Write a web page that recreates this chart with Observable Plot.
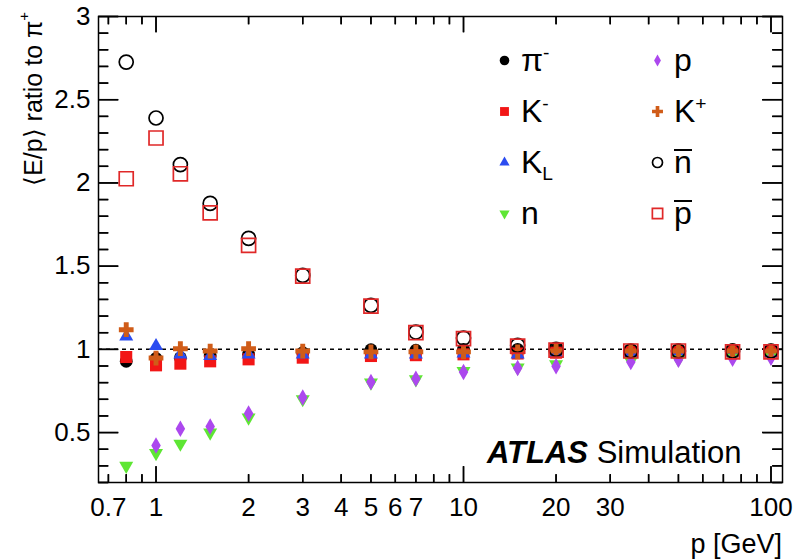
<!DOCTYPE html>
<html><head><meta charset="utf-8">
<script src="https://cdn.jsdelivr.net/npm/d3@7"></script>
<script src="https://cdn.jsdelivr.net/npm/@observablehq/plot@0.6"></script>
<style>
body{margin:0;background:#fff;}
#wrap{position:relative;width:796px;height:560px;font-family:"Liberation Sans",Arial,Helvetica,sans-serif;color:#000;}
#wrap svg{font-family:"Liberation Sans",Arial,Helvetica,sans-serif;font-size:26px;}
.ov{position:absolute;white-space:nowrap;line-height:1;}
.leg{font-size:32px;}
.ob{display:inline-block;border-top:2px solid #000;line-height:0.56em;padding-top:3px;}
sup,sub{font-size:0.6em;line-height:0;}
</style></head><body><div id="wrap"></div>
<script>
// momentum points [GeV]
const momenta = [0.8, 1, 1.2, 1.5, 2, 3, 5, 7, 10, 15, 20, 35, 50, 75, 100];
// <E/p> ratio to pi+
const piMinus = [0.928, 0.945, 0.950, 0.960, 0.970, 0.980, 0.998, 0.995, 1.000, 1.000, 1.000, 0.995, 0.998, 0.998, 0.995];
const kMinus  = [0.954, 0.904, 0.914, 0.928, 0.940, 0.950, 0.960, 0.965, 0.970, 0.975, 0.980, 0.985, 0.985, 0.985, 0.985];
const kLong   = [1.078, 1.020, 0.970, 0.960, 0.970, 0.970, 0.970, 0.970, 0.975, 0.970, 0.975, 0.980, 0.980, 0.980, 0.980];
const neutron = [0.300, 0.377, 0.433, 0.500, 0.590, 0.700, 0.800, 0.820, 0.870, 0.890, 0.910, 0.930, 0.940, 0.950, 0.955];
const proton  = [null, 0.423, 0.523, 0.537, 0.614, 0.710, 0.804, 0.824, 0.864, 0.888, 0.898, 0.924, 0.938, 0.944, 0.950];
const kPlus   = [1.118, 0.948, 1.004, 0.990, 1.004, 0.990, 0.985, 0.985, 0.985, 0.985, 0.990, 0.990, 0.990, 0.990, 0.990];
const nBar    = [2.726, 2.390, 2.110, 1.877, 1.667, 1.444, 1.264, 1.104, 1.068, 1.024, 1.000, 0.990, 0.990, 0.990, 0.990];
const pBar    = [2.025, 2.270, 2.055, 1.820, 1.625, 1.440, 1.260, 1.100, 1.064, 1.020, 0.995, 0.990, 0.990, 0.985, 0.985];

// axis ticks
const xTickLabels = [0.7, 1, 2, 3, 4, 5, 6, 7, 10, 20, 30, 100];
const xMajor = [1, 10, 100];
const xMinor = [0.7, 0.8, 0.9, 2, 3, 4, 5, 6, 7, 8, 9, 20, 30, 40, 50, 60, 70, 80, 90];
const yTickLabels = [0.5, 1, 1.5, 2, 2.5, 3];
const yMinor = [0.2, 0.3, 0.4, 0.6, 0.7, 0.8, 0.9, 1.1, 1.2, 1.3, 1.4, 1.6, 1.7, 1.8, 1.9, 2.1, 2.2, 2.3, 2.4, 2.6, 2.7, 2.8, 2.9];

const series = [
  {name: "piMinus", values: piMinus, symbol: "circle",   r: 6.4, lr: 4.8, color: "#000000", open: false, rotate: 0},
  {name: "kMinus",  values: kMinus,  symbol: "square",   r: 6.8, lr: 5.0, color: "#f21616", open: false, rotate: 0},
  {name: "kLong",   values: kLong,   symbol: "triangle", r: 5.2, lr: 3.8, color: "#2b4cf0", open: false, rotate: 0},
  {name: "neutron", values: neutron, symbol: "triangle", r: 5.2, lr: 3.8, color: "#5ee634", open: false, rotate: 180},
  {name: "proton",  values: proton,  symbol: "diamond",  r: 5.0, lr: 3.6, color: "#ac48ee", open: false, rotate: 0},
  {name: "kPlus",   values: kPlus,   symbol: "cross",    r: 6.2, lr: 4.6, color: "#d05c18", open: false, rotate: 0},
  {name: "nBar",    values: nBar,    symbol: "circle",   r: 7.0, lr: 5.0, color: "#000000", open: true,  rotate: 0},
  {name: "pBar",    values: pBar,    symbol: "square",   r: 7.9, lr: 5.8, color: "#e02828", open: true,  rotate: 0}
];

// legend layout: [series index, column, row, label html]
const legendItems = [
  [0, 0, 0, 'π<sup>-</sup>'],
  [1, 0, 1, 'K<sup>-</sup>'],
  [2, 0, 2, 'K<sub>L</sub>'],
  [3, 0, 3, 'n'],
  [4, 1, 0, 'p'],
  [5, 1, 1, 'K<sup>+</sup>'],
  [6, 1, 2, '<span class="ob">n</span>'],
  [7, 1, 3, '<span class="ob">p</span>']
];

const W = 796, H = 560;
const margin = {top: 16, right: 14, bottom: 78, left: 98};
const frameW = W - margin.left - margin.right, frameH = H - margin.top - margin.bottom;
const legCol = [406, 559], legRow = [44, 95, 146, 197];

function dotOpts(s, extra) {
  return Object.assign({
    symbol: s.symbol, r: s.r, rotate: s.rotate,
    fill: s.open ? "none" : s.color,
    stroke: s.open ? s.color : "none",
    strokeWidth: s.open ? 1.7 : 0
  }, extra);
}

// inward ROOT-style ticks: a short line symbol anchored on the frame edge
function tickSymbol(dx, dy) {
  return {draw(context) { context.moveTo(0, 0); context.lineTo(dx, dy); }};
}
function yTicks(data, side, len) {
  return [
    Plot.ruleY(data, side === "left"
      ? {y: d => d, stroke: "black", strokeWidth: 1.5, insetRight: frameW - len}
      : {y: d => d, stroke: "black", strokeWidth: 1.5, insetLeft: frameW - len}),
    Plot.dot(data, {y: d => d, frameAnchor: side, symbol: tickSymbol(side === "left" ? len : -len, 0),
      fill: "none", stroke: "black", strokeWidth: 1.5})
  ];
}
function xTicks(data, side, len) {
  return [
    Plot.ruleX(data, side === "bottom"
      ? {x: d => d, stroke: "black", strokeWidth: 1.5, insetTop: frameH - len}
      : {x: d => d, stroke: "black", strokeWidth: 1.5, insetBottom: frameH - len}),
    Plot.dot(data, {x: d => d, frameAnchor: side, symbol: tickSymbol(0, side === "bottom" ? -len : len),
      fill: "none", stroke: "black", strokeWidth: 1.5})
  ];
}

const marks = [];
marks.push(Plot.frame({stroke: "black", strokeWidth: 1.5}));
marks.push(yTicks(yTickLabels, "left", 20));
marks.push(yTicks(yMinor, "left", 10));
marks.push(yTicks(yTickLabels, "right", 20));
marks.push(yTicks(yMinor, "right", 10));
marks.push(xTicks(xMajor, "bottom", 16));
marks.push(xTicks(xMinor, "bottom", 8));
marks.push(xTicks(xMajor, "top", 16));
marks.push(xTicks(xMinor, "top", 8));
marks.push(Plot.ruleY([1], {stroke: "black", strokeWidth: 1.5, strokeDasharray: "4,4"}));
for (const s of series) {
  const rows = momenta.map((p, i) => ({p, v: s.values[i]})).filter(d => d.v != null);
  marks.push(Plot.dot(rows, dotOpts(s, {x: "p", y: "v"})));
}
for (const [si, c, r] of legendItems) {
  const s = series[si];
  marks.push(Plot.dot([0], dotOpts(s, {frameAnchor: "top-left", dx: legCol[c], dy: legRow[r], r: s.lr})));
}
// tick labels
marks.push(Plot.text(yTickLabels, {y: d => d, frameAnchor: "left", textAnchor: "end", dx: -8, text: d => String(d), fontSize: 26}));
marks.push(Plot.text(xTickLabels, {x: d => d, frameAnchor: "bottom", lineAnchor: "top", dy: 15, text: d => String(d), fontSize: 26}));

const chart = Plot.plot({
  width: W, height: H,
  marginTop: margin.top, marginRight: margin.right, marginBottom: margin.bottom, marginLeft: margin.left,
  x: {type: "log", domain: [0.65, 109], axis: null},
  y: {domain: [0.2, 3], axis: null},
  marks
});

const wrap = document.getElementById("wrap");
wrap.appendChild(chart);

function overlay(html, css, cls) {
  const d = document.createElement("div");
  d.className = "ov" + (cls ? " " + cls : "");
  d.innerHTML = html;
  Object.assign(d.style, css);
  wrap.appendChild(d);
  return d;
}
// legend labels
for (const [si, c, r, html] of legendItems) {
  const cx = margin.left + legCol[c] + 17;
  const baseline = margin.top + legRow[r] + 11;
  overlay(html, {left: cx + "px", top: (baseline - 0.8465 * 32) + "px"}, "leg");
}
// axis titles
overlay('p [GeV]', {right: (W - 782) + "px", top: (554 - 0.8465 * 27) + "px", fontSize: "27px"});
overlay('⟨E/p⟩ ratio to π<sup>+</sup>', {left: "18px", top: "12px", fontSize: "25px", writingMode: "vertical-rl", transform: "rotate(180deg)", lineHeight: "1.2"});
overlay('<b><i>ATLAS</i></b> Simulation', {left: "487px", top: (463 - 0.8465 * 31) + "px", fontSize: "31px"});
</script></body></html>
